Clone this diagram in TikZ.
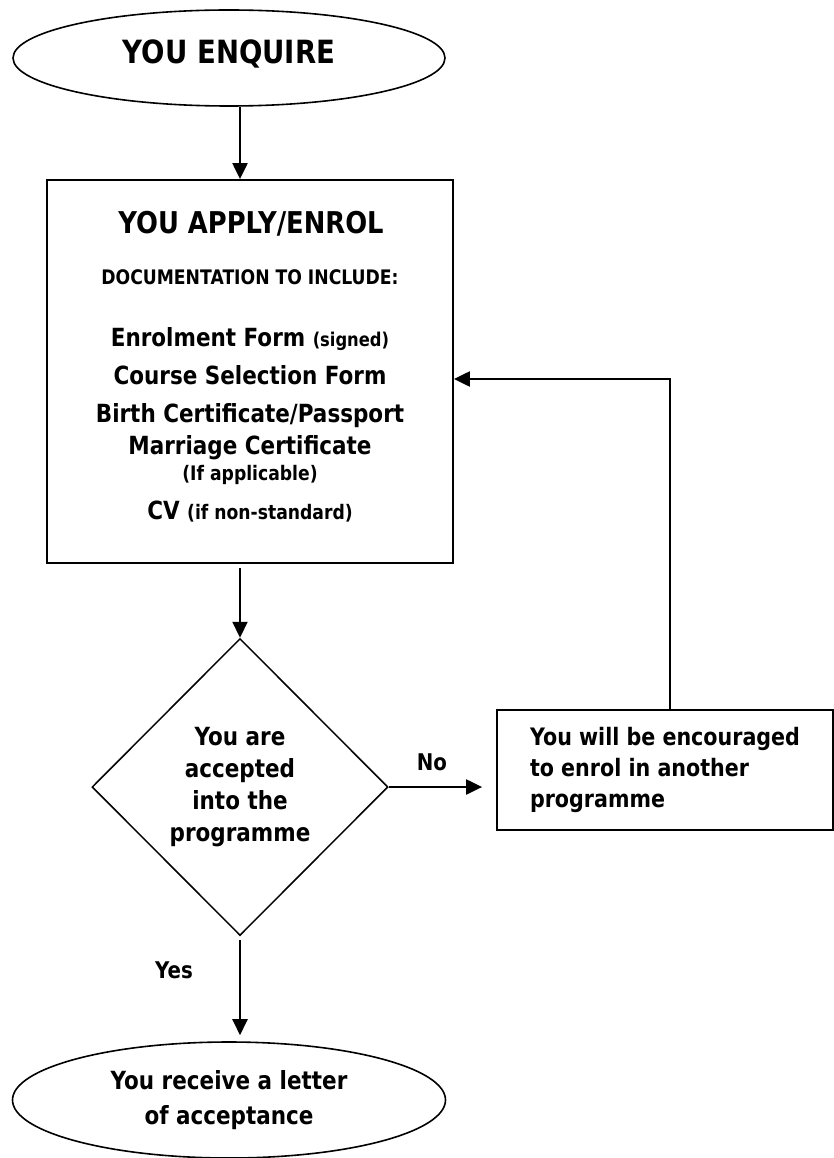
\documentclass[tikz,border=0pt]{standalone}
\usepackage{fontspec}
\setmainfont{DejaVu Sans}[FakeStretch=0.86]
\usetikzlibrary{shapes.geometric,arrows.meta,positioning}

\tikzset{
  every node/.style={font=\bfseries},
  terminal/.style={draw, ellipse, line width=1.6pt, inner sep=0pt},
  stepbox/.style={draw, rectangle, line width=1.8pt, inner sep=0pt},
  decision/.style={draw, diamond, line width=1.5pt, inner sep=0pt, align=center},
  arr/.style={line width=2.2pt, -{Triangle[length=16pt,width=15pt]}},
}
\newcommand{\fs}[2]{\fontsize{#1}{#2}\selectfont}

\begin{document}
\begin{tikzpicture}[x=1pt,y=-1pt]
  \useasboundingbox (0,0) rectangle (834,1158);
  % Start
  \node[terminal, minimum width=432pt, minimum height=96pt, text height=23pt, text depth=12pt] (enq) at (229,58) {\fs{32}{38}YOU ENQUIRE};
  % Application box
  \node[stepbox, minimum width=406pt, minimum height=383pt] (apply) at (250,371.5) {};
  \node[anchor=base] (apply-title) at (251,234) {\fs{30}{36}YOU APPLY/ENROL};
  \node[anchor=base] (apply-docs) at (250,284.5) {\fs{20}{24}DOCUMENTATION TO INCLUDE:};
  \node[anchor=base] (apply-form) at (250,346) {\fs{25}{30}Enrolment Form {\fs{19}{23}(signed)}};
  \node[anchor=base] (apply-course) at (250,384) {\fs{25}{30}Course Selection Form};
  \node[anchor=base] (apply-birth) at (250,422) {\fs{25}{30}Birth Certificate/Passport};
  \node[anchor=base] (apply-marriage) at (250,454) {\fs{25}{30}Marriage Certificate};
  \node[anchor=base] (apply-if) at (250,480) {\fs{20}{24}(If applicable)};
  \node[anchor=base] (apply-cv) at (250,519) {\fs{25}{30}CV {\fs{20}{24}(if non-standard)}};
  % Decision
  \node[decision, minimum width=296pt, minimum height=297pt, font=\bfseries\fs{25}{32}] (dec) at (240,787) {You are\\accepted\\into the\\programme};
  \node (no) at (432,762) {\fs{23}{28}No};
  \node[stepbox, minimum width=336pt, minimum height=120pt, align=left, font=\bfseries\fs{24}{31}] (enc) at (665,770) {You will be encouraged\\to enrol in another\\programme};
  \node (yes) at (174,970) {\fs{23}{28}Yes};
  % End
  \node[terminal, minimum width=433pt, minimum height=116pt, align=center, font=\bfseries\fs{25}{35}] (acc) at (229,1100) {You receive a letter\\of acceptance};

  % Connectors
  \coordinate (back) at (670,379);
  \draw[arr] (enq.south -| dec.north) -- (apply.north -| dec.north);
  \draw[arr, shorten <=4pt] (apply.south -| dec.north) -- (dec.north);
  \draw[arr, shorten >=14pt] (dec.east) -- (dec.east -| enc.west);
  \draw[arr] (enc.north -| back) -- (back) -- (back -| apply.east);
  \draw[arr, shorten <=4pt, shorten >=6pt] (dec.south) -- (acc.north -| dec.south);
\end{tikzpicture}
\end{document}
